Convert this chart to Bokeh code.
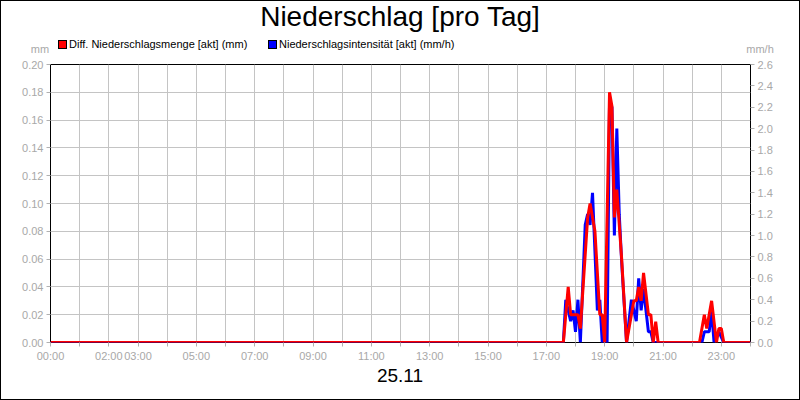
from bokeh.plotting import figure
from bokeh.layouts import column
from bokeh.models import (Range1d, LinearAxis, FixedTicker, NumeralTickFormatter,
                          ColumnDataSource, Div)
from bokeh.embed import file_html
from bokeh.resources import INLINE

# ---- data ----
red_times = ["00:00", "17:35", "17:45", "17:50", "18:05", "18:10", "18:25", "18:30", "18:40",
             "18:50", "18:55", "19:00", "19:10", "19:15", "19:20", "19:25", "19:35", "19:45",
             "19:55", "20:00", "20:05", "20:10", "20:15", "20:20", "20:30", "20:35", "20:40",
             "20:45", "20:50", "22:15", "22:25", "22:30", "22:40", "22:50", "22:55", "23:00",
             "23:05", "24:00"]
red_mm = [0, 0, 0.04, 0.02, 0.02, 0.01, 0.09, 0.10, 0.08,
          0.02, 0.02, 0, 0.18, 0.17, 0.09, 0.11, 0.06, 0,
          0.02, 0.03, 0.03, 0.04, 0.03, 0.05, 0.02, 0.02, 0,
          0.015, 0, 0, 0.02, 0.01, 0.03, 0, 0.01, 0.01,
          0, 0]

blue_times = ["00:00", "17:35", "17:40", "17:50", "17:55", "18:00", "18:05", "18:10", "18:20",
              "18:25", "18:30", "18:35", "18:45", "18:50", "18:55", "19:05", "19:10", "19:15",
              "19:20", "19:25", "19:30", "19:35", "19:45", "19:55", "20:05", "20:10", "20:15",
              "20:20", "20:30", "20:35", "20:40", "22:20", "22:25", "22:35", "22:40", "22:45",
              "22:55", "23:05", "24:00"]
blue_mmh = [0, 0, 0.4, 0.2, 0.3, 0.1, 0.4, 0, 1.1,
            1.2, 1.1, 1.4, 0.3, 0.4, 0, 0, 2.25, 2.2,
            1.0, 2.0, 1.2, 0.75, 0, 0.4, 0.2, 0.6, 0.3,
            0.5, 0.1, 0.1, 0, 0, 0.1, 0.1, 0.3, 0,
            0.1, 0, 0]

x_tick_hours = list(range(25))
x_tick_labels = ["00:00", "", "02:00", "03:00", "", "05:00", "", "07:00", "", "09:00", "",
                 "11:00", "", "13:00", "", "15:00", "", "17:00", "", "19:00", "", "21:00", "",
                 "23:00", ""]
left_ticks = [0.0, 0.02, 0.04, 0.06, 0.08, 0.10, 0.12, 0.14, 0.16, 0.18, 0.20]
right_ticks = [0.0, 0.2, 0.4, 0.6, 0.8, 1.0, 1.2, 1.4, 1.6, 1.8, 2.0, 2.2, 2.4, 2.6]

title_text = "Niederschlag [pro Tag]"
date_text = "25.11"
red_name = "Diff. Niederschlagsmenge [akt] (mm)"
blue_name = "Niederschlagsintensität [akt] (mm/h)"
left_unit = "mm"
right_unit = "mm/h"
red_color = "#ff0000"
blue_color = "#0000ff"


def to_hours(t):
    h, m = t.split(":")
    return int(h) + int(m) / 60.0


red_src = ColumnDataSource(dict(h=[to_hours(t) for t in red_times], v=red_mm))
blue_src = ColumnDataSource(dict(h=[to_hours(t) for t in blue_times], v=blue_mmh))

FONT = "Liberation Sans"
TICK_COLOR = "#b0b0b0"
LABEL_COLOR = "#a8a8a8"
GRID_COLOR = "#c4c4c4"
W = 798
HEAD_H = 57
FOOT_H = 35


# ---- header: title, legend, unit labels ----
def abs_text(txt, left, top, width, size, color, align="left", lh=None):
    lh = lh if lh is not None else size
    return (f'<div style="position:absolute;left:{left}px;top:{top}px;width:{width}px;'
            f'text-align:{align};font-family:\'{FONT}\';font-size:{size}px;line-height:{lh}px;'
            f'color:{color};white-space:nowrap">{txt}</div>')


def swatch(left, top, color):
    return (f'<div style="position:absolute;left:{left}px;top:{top}px;width:9px;height:9px;'
            f'box-sizing:border-box;border:1px solid black;background:{color}"></div>')


header_html = (f'<div style="position:relative;width:{W}px;height:{HEAD_H}px;background:white">'
               + abs_text(title_text, 0, 2, W, 28, "black", "center", lh=28)
               + swatch(57, 39, red_color)
               + abs_text(red_name, 68, 38, 250, 11, "black")
               + swatch(267, 39, blue_color)
               + abs_text(blue_name, 278, 38, 250, 11, "black")
               + abs_text(left_unit, 19, 43, 40, 11, LABEL_COLOR, "center")
               + abs_text(right_unit, 739, 43, 40, 11, LABEL_COLOR, "center")
               + '</div>')
header = Div(text=header_html, width=W, height=HEAD_H, margin=0)

footer_html = (f'<div style="width:{W}px;height:{FOOT_H}px;padding-top:2px;box-sizing:border-box;'
               f'text-align:center;font-family:\'{FONT}\';font-size:19px;line-height:19px;'
               f'color:black;background:white">{date_text}</div>')
footer = Div(text=footer_html, width=W, height=FOOT_H, margin=0)

# ---- chart ----
p = figure(width=W, height=306, x_range=Range1d(0, 24), y_range=Range1d(0, 0.2),
           output_backend="svg", toolbar_location=None,
           min_border_left=49, min_border_right=49, min_border_top=6, min_border_bottom=22)
p.background_fill_color = "white"
p.border_fill_color = "white"
p.outline_line_color = "black"
p.outline_line_width = 1

p.extra_y_ranges = {"rate": Range1d(0, 2.6)}

xa = p.xaxis[0]
xa.ticker = FixedTicker(ticks=x_tick_hours)
xa.major_label_overrides = {h: lab for h, lab in zip(x_tick_hours, x_tick_labels)}
ya = p.yaxis[0]
ya.ticker = FixedTicker(ticks=left_ticks)
ya.formatter = NumeralTickFormatter(format="0.00")
ra = LinearAxis(y_range_name="rate", ticker=FixedTicker(ticks=right_ticks),
                formatter=NumeralTickFormatter(format="0.0"))
p.add_layout(ra, "right")

for ax in (xa, ya, ra):
    ax.axis_line_color = None
    ax.major_tick_line_color = TICK_COLOR
    ax.major_tick_out = 4
    ax.major_tick_in = 0
    ax.minor_tick_line_color = None
    ax.major_label_text_font = FONT
    ax.major_label_text_font_size = "11px"
    ax.major_label_text_color = LABEL_COLOR
    ax.major_label_standoff = 3

p.xgrid.ticker = FixedTicker(ticks=x_tick_hours)
p.ygrid.ticker = FixedTicker(ticks=left_ticks)
for g in (p.xgrid[0], p.ygrid[0]):
    g.grid_line_color = GRID_COLOR
    g.grid_line_width = 1

p.line(x="h", y="v", source=blue_src, y_range_name="rate", line_color=blue_color, line_width=3)
p.line(x="h", y="v", source=red_src, line_color=red_color, line_width=3)

layout = column(header, p, footer, spacing=0)
layout.styles = {"border": "1px solid black", "background": "white"}

open("out.html", "w").write(file_html(layout, INLINE))
